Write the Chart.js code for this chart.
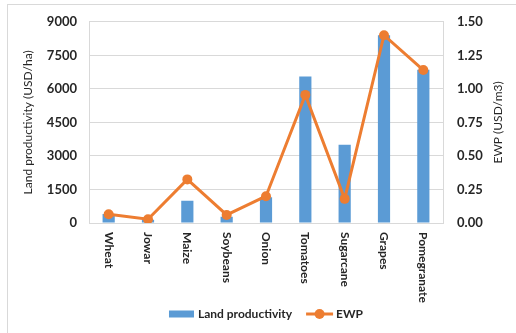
<!DOCTYPE html>
<html>
<head>
<meta charset="utf-8">
<script src="https://cdn.jsdelivr.net/npm/chart.js@4.4.1/dist/chart.umd.min.js"></script>
<style>
  html, body { margin: 0; padding: 0; background: #fff; }
  #wrap { position: relative; width: 516px; height: 333px; }
  #frame { position: absolute; left: 7px; top: 4px; right: 0; bottom: 0;
           border-left: 1px solid #d9d9d9; border-top: 1px solid #d9d9d9; }
  canvas { position: absolute; left: 0; top: 0; }
</style>
</head>
<body>
<div id="wrap">
  <div id="frame"></div>
  <canvas id="c" width="516" height="333"></canvas>
</div>
<script>
// crop names
const crops = ['Wheat', 'Jowar', 'Maize', 'Soybeans', 'Onion', 'Tomatoes', 'Sugarcane', 'Grapes', 'Pomegranate'];
// land productivity, USD/ha (left axis)
const landProd = [400, 150, 1000, 280, 1150, 6550, 3500, 8400, 6850];
// economic water productivity, USD/m3 (right axis)
const ewp = [0.065, 0.028, 0.325, 0.06, 0.2, 0.955, 0.18, 1.4, 1.14];

const BLUE = '#5b9bd5';
const ORANGE = '#ed7d31';
const FONT = 'Lato, "Open Sans", sans-serif';

// rotated category labels (top to bottom), right axis title, custom legend
const extras = {
  id: 'extras',
  afterDraw(chart) {
    const ctx = chart.ctx;
    const x = chart.scales.x;
    const area = chart.chartArea;
    ctx.save();
    ctx.fillStyle = '#262626';
    ctx.font = 'bold 12px ' + FONT;
    ctx.textBaseline = 'middle';
    ctx.textAlign = 'left';
    crops.forEach((name, i) => {
      const px = x.getPixelForValue(i);
      ctx.save();
      ctx.translate(px, area.bottom + 9);
      ctx.rotate(Math.PI / 2);
      ctx.fillText(name, 0, 0);
      ctx.restore();
    });

    // right axis title, reading bottom to top
    ctx.save();
    ctx.font = '12px ' + FONT;
    ctx.textAlign = 'center';
    ctx.translate(498, (area.top + area.bottom) / 2);
    ctx.rotate(-Math.PI / 2);
    ctx.fillText('EWP (USD/m3)', 0, 0);
    ctx.restore();

    // legend
    const y = 314;
    const t1 = 'Land productivity', t2 = 'EWP';
    const w1 = ctx.measureText(t1).width, w2 = ctx.measureText(t2).width;
    const total = 25 + 4 + w1 + 14 + 27 + 3 + w2;
    let lx = (area.left + area.right) / 2 - total / 2;
    ctx.fillStyle = BLUE;
    ctx.fillRect(lx, y - 3.5, 25, 7);
    lx += 29;
    ctx.fillStyle = '#262626';
    ctx.fillText(t1, lx, y);
    lx += w1 + 14;
    ctx.strokeStyle = ORANGE;
    ctx.lineWidth = 3;
    ctx.beginPath();
    ctx.moveTo(lx, y);
    ctx.lineTo(lx + 27, y);
    ctx.stroke();
    ctx.fillStyle = ORANGE;
    ctx.beginPath();
    ctx.arc(lx + 13.5, y, 5, 0, Math.PI * 2);
    ctx.fill();
    lx += 30;
    ctx.fillStyle = '#262626';
    ctx.fillText(t2, lx, y);
    ctx.restore();
  }
};

new Chart(document.getElementById('c'), {
  type: 'bar',
  data: {
    labels: crops,
    datasets: [
      {
        type: 'line',
        label: 'EWP',
        data: ewp,
        yAxisID: 'y1',
        borderColor: ORANGE,
        backgroundColor: ORANGE,
        borderWidth: 3,
        pointRadius: 5,
        pointBackgroundColor: ORANGE,
        pointBorderWidth: 0,
        tension: 0,
        order: 0
      },
      {
        type: 'bar',
        label: 'Land productivity',
        data: landProd,
        yAxisID: 'y',
        backgroundColor: BLUE,
        barPercentage: 0.31,
        categoryPercentage: 1,
        order: 1
      }
    ]
  },
  options: {
    responsive: false,
    animation: false,
    layout: { padding: { left: 21, right: 0, top: 19, bottom: 0 } },
    plugins: { legend: { display: false }, tooltip: { enabled: false } },
    scales: {
      x: {
        grid: { display: false },
        border: { display: true, color: '#d9d9d9' },
        ticks: { display: false },
        afterFit(s) { s.height = 110; }
      },
      y: {
        position: 'left',
        min: 0, max: 9000,
        ticks: { stepSize: 1500, padding: 12, color: '#262626',
                 callback: v => String(v),
                 font: { family: FONT, size: 13, weight: 'bold' } },
        grid: { color: '#d9d9d9', drawTicks: false },
        border: { display: true, color: '#d9d9d9' },
        title: { display: true, text: 'Land productivity (USD/ha)', color: '#262626', padding: 0,
                 font: { family: FONT, size: 12 } },
        afterFit(s) { s.width = 68; }
      },
      y1: {
        position: 'right',
        min: 0, max: 1.5,
        ticks: { stepSize: 0.25, padding: 14, color: '#262626',
                 callback: v => v.toFixed(2),
                 font: { family: FONT, size: 13, weight: 'bold' } },
        grid: { display: false, drawTicks: false },
        border: { display: true, color: '#d9d9d9' },
        afterFit(s) { s.width = 73; }
      }
    }
  },
  plugins: [extras]
});
</script>
</body>
</html>
